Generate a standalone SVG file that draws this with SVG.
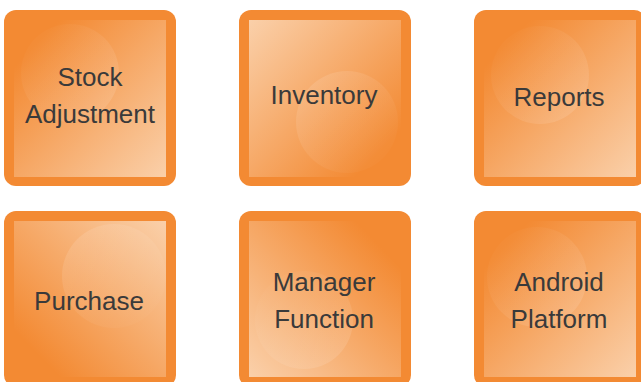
<svg xmlns="http://www.w3.org/2000/svg" width="641" height="382" viewBox="0 0 641 382">
<defs>
<linearGradient id="gTLBR" x1="0" y1="0" x2="1" y2="1"><stop offset="0.15" stop-color="#F38A33"/><stop offset="1" stop-color="#FAD0AA"/></linearGradient>
<linearGradient id="gBRTL" x1="1" y1="1" x2="0" y2="0"><stop offset="0.15" stop-color="#F38A33"/><stop offset="1" stop-color="#FAD0AA"/></linearGradient>
<linearGradient id="gTRBL" x1="1" y1="0" x2="0" y2="1"><stop offset="0.15" stop-color="#F38A33"/><stop offset="1" stop-color="#FAD0AA"/></linearGradient>
<linearGradient id="gBLTR" x1="0" y1="1" x2="1" y2="0"><stop offset="0.15" stop-color="#F38A33"/><stop offset="1" stop-color="#FAD0AA"/></linearGradient>
<linearGradient id="hl" x1="0" y1="0" x2="1" y2="1"><stop offset="0" stop-color="#FFFFFF" stop-opacity="0"/><stop offset="1" stop-color="#FFFFFF" stop-opacity="0.13"/></linearGradient>
<linearGradient id="hl2" x1="1" y1="1" x2="0" y2="0"><stop offset="0" stop-color="#FFFFFF" stop-opacity="0"/><stop offset="1" stop-color="#FFFFFF" stop-opacity="0.13"/></linearGradient>
</defs>
<style>
.outer{fill:#F38A33}
.lbl{font-family:"Liberation Sans",Arial,sans-serif;font-size:26px;fill:#3A3A3A;text-anchor:middle}
</style>
<g id="stock-adjustment">
<rect class="outer" x="4" y="10" width="172" height="176" rx="12"/>
<rect x="14" y="20" width="152" height="157" fill="url(#gTLBR)"/>
<circle cx="70" cy="73" r="49" fill="url(#hl)"/>
<text class="lbl" x="90" y="86">Stock</text>
<text class="lbl" x="90" y="123">Adjustment</text>
</g>
<g id="inventory">
<rect class="outer" x="239" y="10" width="172" height="176" rx="12"/>
<rect x="249" y="20" width="152" height="157" fill="url(#gBRTL)"/>
<circle cx="347" cy="122" r="51" fill="url(#hl2)"/>
<text class="lbl" x="324" y="104">Inventory</text>
</g>
<g id="reports">
<rect class="outer" x="474" y="10" width="172" height="176" rx="12"/>
<rect x="484" y="20" width="152" height="157" fill="url(#gTLBR)"/>
<circle cx="540" cy="75" r="49" fill="url(#hl)"/>
<text class="lbl" x="559" y="106">Reports</text>
</g>
<g id="purchase">
<rect class="outer" x="4" y="211" width="172" height="176" rx="12"/>
<rect x="14" y="221" width="152" height="156" fill="url(#gBLTR)"/>
<circle cx="114" cy="276" r="52" fill="url(#hl2)"/>
<text class="lbl" x="89" y="310">Purchase</text>
</g>
<g id="manager-function">
<rect class="outer" x="239" y="211" width="172" height="176" rx="12"/>
<rect x="249" y="221" width="152" height="156" fill="url(#gTRBL)"/>
<circle cx="304" cy="320" r="49" fill="url(#hl)"/>
<text class="lbl" x="324" y="291">Manager</text>
<text class="lbl" x="324" y="328">Function</text>
</g>
<g id="android-platform">
<rect class="outer" x="474" y="211" width="172" height="176" rx="12"/>
<rect x="484" y="221" width="152" height="156" fill="url(#gTLBR)"/>
<circle cx="537" cy="277" r="50" fill="url(#hl)"/>
<text class="lbl" x="559" y="291">Android</text>
<text class="lbl" x="559" y="328">Platform</text>
</g>
<g id="connectors"/>
</svg>
